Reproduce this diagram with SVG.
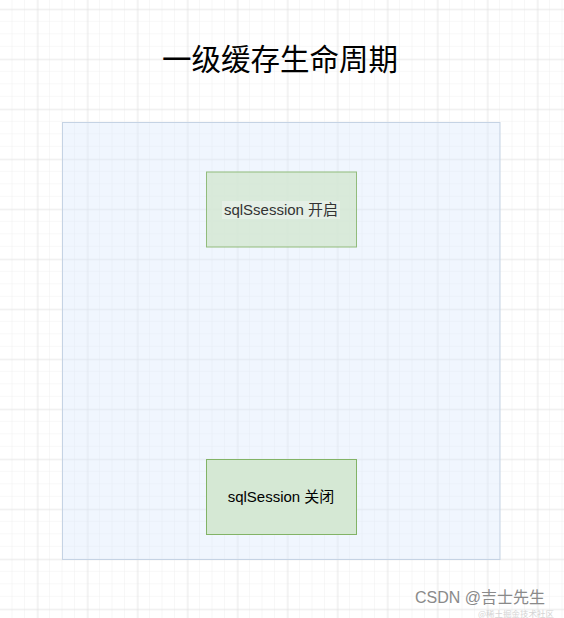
<svg xmlns="http://www.w3.org/2000/svg" width="564" height="618" viewBox="0 0 564 618">
<defs>
<pattern id="minor" x="0" y="9.3" width="12.5" height="12.5" patternUnits="userSpaceOnUse">
<path d="M12.5 0V12.5M0 12.5H12.5" fill="none" stroke="#efefef" stroke-width="1"/>
</pattern>
<pattern id="major" x="37.5" y="9.3" width="50" height="50" patternUnits="userSpaceOnUse">
<path d="M0 0V50M0 0H50" fill="none" stroke="#dcdcdc" stroke-width="1"/>
</pattern>
<style>
.box{fill:#d5e8d4;stroke:#82b366;stroke-width:1}
.lbl{font-family:"Liberation Sans","Noto Sans CJK SC",sans-serif;font-size:15px;text-anchor:middle}
</style>
</defs>
<rect width="564" height="618" fill="#ffffff"/>
<rect width="564" height="618" fill="url(#minor)"/>
<rect width="564" height="618" fill="url(#major)"/>
<g id="title">
<text x="280" y="70" font-family="'Noto Sans CJK SC',sans-serif" font-size="29.5" text-anchor="middle" fill="#000">一级缓存生命周期</text>
</g>
<g id="container">
<rect x="62.5" y="122.5" width="437.5" height="437" fill="#dae8fc" fill-opacity="0.4" stroke="#c5d3e4" stroke-width="1"/>
</g>
<g id="connectors"></g>
<g id="open">
<rect class="box" x="206.5" y="172" width="150" height="75" opacity="0.85"/>
<rect x="222" y="201" width="118" height="18" fill="#f4f7f3" opacity="0.45"/>
<text class="lbl" x="281" y="215" fill="#333333">sqlSsession 开启</text>
</g>
<g id="close">
<rect class="box" x="206.5" y="459.5" width="150" height="75"/>
<text class="lbl" x="281" y="502" fill="#000000">sqlSession 关闭</text>
</g>
<g id="watermark">
<text x="516" y="616.5" font-family="'Noto Sans CJK SC',sans-serif" font-size="8.5" fill="#c4c4c4" text-anchor="middle" opacity="0.7">@稀土掘金技术社区</text>
<text x="480" y="603" font-family="'Liberation Sans','Noto Sans CJK SC',sans-serif" font-size="16" fill="#8a8a8a" text-anchor="middle">CSDN @吉士先生</text>
</g>
</svg>
